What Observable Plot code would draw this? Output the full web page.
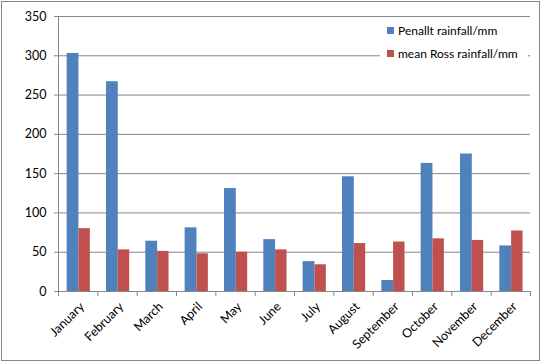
<!DOCTYPE html>
<html>
<head>
<meta charset="utf-8">
<script src="https://cdn.jsdelivr.net/npm/d3@7"></script>
<script src="https://cdn.jsdelivr.net/npm/@observablehq/plot@0.6"></script>
<style>
  body { margin: 0; background: #fff; }
  #wrap { position: relative; width: 542px; height: 364px; font-family: Lato, "Open Sans", sans-serif; }
  #border { position: absolute; left: 1px; top: 1px; width: 537px; height: 358px; border: 1px solid #868686; pointer-events: none; }
  #legend { position: absolute; left: 380px; top: 20px; width: 148px; height: 50px; background: #fff; font-size: 12px; color: #000; }
  .item { position: absolute; left: 7px; display: flex; align-items: center; white-space: nowrap; }
  .sw { width: 7px; height: 7px; margin-right: 4px; }
</style>
</head>
<body>
<div id="wrap"><div id="chart"></div><div id="legend"></div><div id="border"></div></div>
<script>
const months = ["January","February","March","April","May","June","July","August","September","October","November","December"];
const penallt = [303, 267, 64, 81, 131, 66, 38, 146, 14, 163, 175, 58];
const ross = [80, 53, 51, 48, 50, 53, 34, 61, 63, 67, 65, 77];
const seriesNames = ["Penallt rainfall/mm", "mean Ross rainfall/mm"];
const seriesColors = ["#4F81BD", "#C0504D"];
const yTicks = [0, 50, 100, 150, 200, 250, 300, 350];

const W = 542, H = 364, mL = 58, mR = 12, mT = 16, mB = 73;
const step = (W - mL - mR) / months.length;
const data = months.map((m, i) => ({month: m, penallt: penallt[i], ross: ross[i]}));
const grid = "#868686";

const chart = Plot.plot({
  width: W, height: H,
  marginLeft: mL, marginRight: mR, marginTop: mT, marginBottom: mB,
  style: {fontFamily: "Lato, 'Open Sans', sans-serif", fontSize: "12px", color: "#000", background: "transparent"},
  x: {domain: months, padding: 0, round: false},
  y: {domain: [0, 350], ticks: yTicks},
  marks: [
    Plot.gridY(yTicks, {stroke: grid, strokeOpacity: 1}),
    Plot.barY(data, {x: "month", y: "penallt", fill: seriesColors[0], insetLeft: step * 0.22, insetRight: step - step * 0.52}),
    Plot.barY(data, {x: "month", y: "ross", fill: seriesColors[1], insetLeft: step * 0.52, insetRight: step * 0.19}),
    Plot.ruleY([0], {stroke: grid}),
    Plot.ruleX([0], {x: () => months[0], dx: -step / 2, stroke: grid}),
    Plot.axisY(yTicks, {tickSize: 4, tickPadding: 8, stroke: grid, fontSize: 12.5, label: null, tickFormat: d => d}),
    Plot.ruleX(months, {x: d => d, y1: 0, y2: 0, dx: -step / 2, insetBottom: -5, stroke: grid}),
    Plot.ruleX([months[months.length - 1]], {x: d => d, y1: 0, y2: 0, dx: step / 2, insetBottom: -5, stroke: grid}),
    Plot.axisX({tickSize: 0, tickRotate: -45, tickPadding: 13, dx: 4, label: null, fontSize: 12.5})
  ]
});
document.getElementById("chart").appendChild(chart);

const legend = document.getElementById("legend");
seriesNames.forEach((name, i) => {
  const it = document.createElement("div");
  it.className = "item";
  it.style.top = (3 + i * 23) + "px";
  it.innerHTML = `<div class="sw" style="background:${seriesColors[i]}"></div><span>${name}</span>`;
  legend.appendChild(it);
});
</script>
</body>
</html>
